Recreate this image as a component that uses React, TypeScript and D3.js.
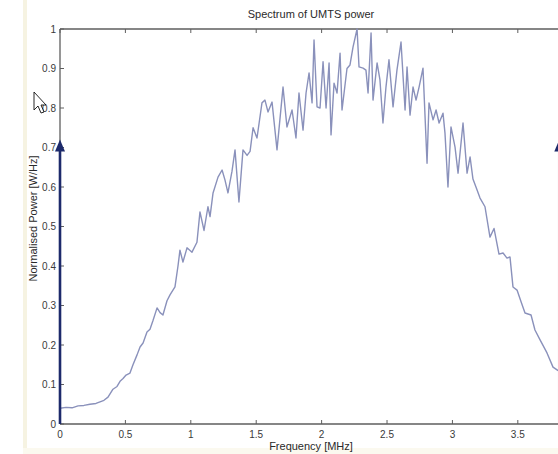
import React, { useEffect, useRef } from "react";
import * as d3 from "d3";

const freqMHz = [0, 0.046, 0.092, 0.138, 0.183, 0.229, 0.275, 0.306, 0.336, 0.367, 0.405, 0.436, 0.459, 0.482, 0.505, 0.535, 0.558, 0.589, 0.612, 0.635, 0.665, 0.688, 0.711, 0.742, 0.765, 0.787, 0.818, 0.841, 0.879, 0.902, 0.917, 0.94, 0.971, 1.009, 1.047, 1.07, 1.101, 1.131, 1.147, 1.17, 1.208, 1.239, 1.261, 1.284, 1.315, 1.338, 1.368, 1.399, 1.43, 1.453, 1.476, 1.506, 1.544, 1.567, 1.59, 1.621, 1.659, 1.705, 1.735, 1.774, 1.804, 1.827, 1.858, 1.881, 1.904, 1.927, 1.942, 1.965, 1.988, 2.011, 2.034, 2.057, 2.072, 2.095, 2.118, 2.141, 2.156, 2.194, 2.217, 2.24, 2.271, 2.286, 2.317, 2.339, 2.355, 2.378, 2.393, 2.424, 2.446, 2.469, 2.492, 2.515, 2.546, 2.576, 2.607, 2.638, 2.653, 2.676, 2.699, 2.722, 2.745, 2.775, 2.806, 2.821, 2.852, 2.875, 2.898, 2.928, 2.943, 2.966, 2.989, 3.02, 3.043, 3.081, 3.112, 3.135, 3.157, 3.18, 3.211, 3.249, 3.287, 3.318, 3.356, 3.387, 3.417, 3.44, 3.463, 3.494, 3.524, 3.555, 3.601, 3.631, 3.67, 3.723, 3.769, 3.8, 3.84];
const powerNorm = [0.04, 0.042, 0.041, 0.046, 0.047, 0.05, 0.052, 0.056, 0.06, 0.068, 0.088, 0.095, 0.108, 0.115, 0.124, 0.129, 0.15, 0.175, 0.195, 0.205, 0.233, 0.24, 0.262, 0.294, 0.282, 0.276, 0.312, 0.327, 0.347, 0.4, 0.44, 0.41, 0.446, 0.435, 0.46, 0.537, 0.49, 0.55, 0.525, 0.585, 0.625, 0.643, 0.618, 0.585, 0.64, 0.694, 0.562, 0.694, 0.68, 0.69, 0.75, 0.724, 0.813, 0.82, 0.79, 0.815, 0.694, 0.853, 0.752, 0.795, 0.724, 0.838, 0.744, 0.838, 0.889, 0.813, 0.972, 0.803, 0.8, 0.917, 0.8, 0.914, 0.732, 0.863, 0.838, 0.939, 0.795, 0.9, 0.909, 0.954, 1.0, 0.904, 0.901, 0.896, 0.838, 0.99, 0.82, 0.914, 0.871, 0.762, 0.853, 0.922, 0.803, 0.896, 0.967, 0.795, 0.904, 0.782, 0.853, 0.82, 0.853, 0.901, 0.66, 0.813, 0.77, 0.795, 0.762, 0.787, 0.737, 0.6, 0.752, 0.701, 0.635, 0.762, 0.635, 0.676, 0.62, 0.6, 0.572, 0.55, 0.473, 0.495, 0.43, 0.433, 0.42, 0.423, 0.347, 0.339, 0.31, 0.281, 0.276, 0.238, 0.213, 0.18, 0.144, 0.137, 0.128];

const xTicks = [0, 0.5, 1, 1.5, 2, 2.5, 3, 3.5];
const xTickLabels = ["0", "0.5", "1", "1.5", "2", "2.5", "3", "3.5"];
const yTicks = [0, 0.1, 0.2, 0.3, 0.4, 0.5, 0.6, 0.7, 0.8, 0.9, 1];
const yTickLabels = ["0", "0.1", "0.2", "0.3", "0.4", "0.5", "0.6", "0.7", "0.8", "0.9", "1"];
const arrowFreqs = [0, 3.817];
const arrowLevel = 0.72;

const W = 558;
const H = 454;

export default function App() {
  const ref = useRef<SVGSVGElement>(null);

  useEffect(() => {
    const svg = d3.select(ref.current);
    svg.selectAll("*").remove();

    const x = d3.scaleLinear().domain([0, 3.84]).range([60, 562.3]);
    const y = d3.scaleLinear().domain([0, 1]).range([424, 29]);
    const font = "'Liberation Sans', Arial, sans-serif";
    const axisCol = "#5e5e5e";
    const textCol = "#3a3a3a";

    svg.append("rect").attr("x", 0).attr("y", 0).attr("width", W).attr("height", H).attr("fill", "#ffffff");
    svg.append("rect").attr("x", 23).attr("y", 0).attr("width", 4).attr("height", H).attr("fill", "#f6f3e2");
    svg.append("rect").attr("x", 23).attr("y", 448).attr("width", W - 23).attr("height", 6).attr("fill", "#fbf9ef");

    // axes box
    const x0 = x(0), x1 = x(3.84), yb = y(0), yt = y(1);
    const g = svg.append("g");
    g.append("line").attr("x1", x0).attr("x2", x1).attr("y1", yb).attr("y2", yb).attr("stroke", axisCol).attr("stroke-width", 1.3);
    g.append("line").attr("x1", x0).attr("x2", x1).attr("y1", yt).attr("y2", yt).attr("stroke", axisCol).attr("stroke-width", 1.3);
    g.append("line").attr("x1", x0).attr("x2", x0).attr("y1", yt).attr("y2", yb).attr("stroke", axisCol).attr("stroke-width", 1.3);
    g.append("line").attr("x1", x1).attr("x2", x1).attr("y1", yt).attr("y2", yb).attr("stroke", axisCol).attr("stroke-width", 1.3);

    xTicks.forEach((t, i) => {
      g.append("line").attr("x1", x(t)).attr("x2", x(t)).attr("y1", yb).attr("y2", yb - 4).attr("stroke", axisCol);
      g.append("line").attr("x1", x(t)).attr("x2", x(t)).attr("y1", yt).attr("y2", yt + 4).attr("stroke", axisCol);
      g.append("text").attr("x", x(t)).attr("y", yb + 14).attr("text-anchor", "middle")
        .attr("font-family", font).attr("font-size", 10).attr("fill", textCol).text(xTickLabels[i]);
    });
    yTicks.forEach((t, i) => {
      g.append("line").attr("x1", x0).attr("x2", x0 + 4).attr("y1", y(t)).attr("y2", y(t)).attr("stroke", axisCol);
      g.append("line").attr("x1", x1).attr("x2", x1 - 4).attr("y1", y(t)).attr("y2", y(t)).attr("stroke", axisCol);
      g.append("text").attr("x", x0 - 4).attr("y", y(t) + 3.5).attr("text-anchor", "end")
        .attr("font-family", font).attr("font-size", 10).attr("fill", textCol).text(yTickLabels[i]);
    });

    // data line
    const pts = freqMHz.map((f, i) => [f, powerNorm[i]] as [number, number]);
    const line = d3.line<[number, number]>().x((d) => x(d[0])).y((d) => y(d[1]));
    svg.append("path").attr("d", line(pts) as string).attr("fill", "none")
      .attr("stroke", "#8a91bb").attr("stroke-width", 1.4).attr("stroke-linejoin", "round");

    // arrows
    arrowFreqs.forEach((f) => {
      const ax = x(f);
      const tip = y(arrowLevel);
      svg.append("line").attr("x1", ax).attr("x2", ax).attr("y1", yb).attr("y2", tip + 10)
        .attr("stroke", "#1d2a6b").attr("stroke-width", 2.6);
      svg.append("path").attr("d", `M${ax},${tip} L${ax - 5},${tip + 12} L${ax + 5},${tip + 12} Z`)
        .attr("fill", "#1d2a6b");
    });

    // titles
    svg.append("text").attr("x", 311).attr("y", 18).attr("text-anchor", "middle")
      .attr("font-family", font).attr("font-size", 11).attr("fill", "#2a2a2a").text("Spectrum of UMTS power");
    svg.append("text").attr("x", 311).attr("y", 450).attr("text-anchor", "middle")
      .attr("font-family", font).attr("font-size", 11).attr("fill", "#2a2a2a").text("Frequency [MHz]");
    svg.append("text").attr("transform", `translate(37,${(yt + yb) / 2 - 8}) rotate(-90)`).attr("text-anchor", "middle")
      .attr("font-family", font).attr("font-size", 11).attr("fill", "#2a2a2a").text("Normalised Power [W/Hz]");

    // mouse cursor
    svg.append("path")
      .attr("d", "M34,92 L34,110 L38,106 L41,113 L44,112 L41,105 L46,105 Z")
      .attr("fill", "#fff").attr("stroke", "#111").attr("stroke-width", 0.9).attr("stroke-linejoin", "round");
  }, []);

  return (
    <svg ref={ref} width={W} height={H} style={{ position: "absolute", left: 0, top: 0, display: "block" }} />
  );
}
